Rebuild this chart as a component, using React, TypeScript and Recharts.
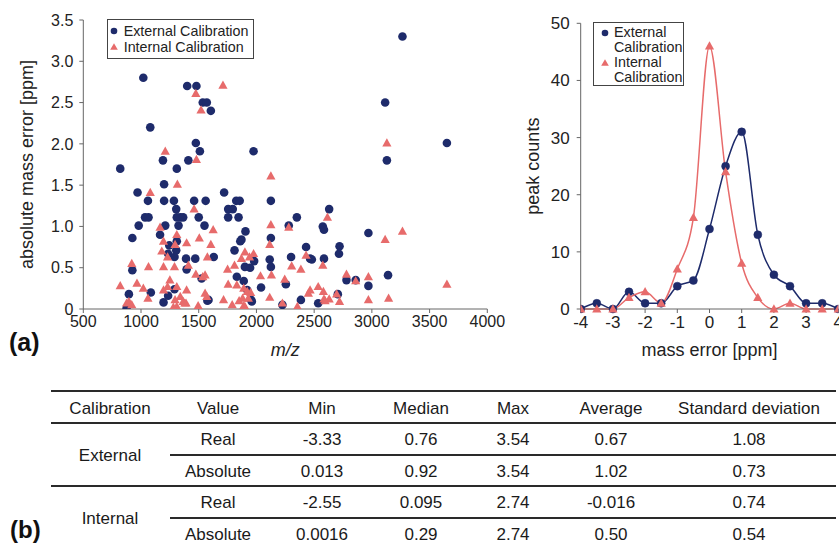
import React from 'react';
import { ScatterChart, Scatter, LineChart, Line, XAxis, YAxis, Legend } from 'recharts';

const NAVY = '#1e2b6b';
const SALMON = '#e76b6b';
const AXIS = '#666';
const FONT = '"Liberation Sans", Arial, sans-serif';

// (a) left: absolute mass error vs m/z
const mzTicks = [500, 1000, 1500, 2000, 2500, 3000, 3500, 4000];
const errTicks = [0, 0.5, 1, 1.5, 2, 2.5, 3, 3.5];

const externalPoints: [number, number][] = [
  [1020, 2.8], [1400, 2.7], [1480, 2.7], [1535, 2.5], [1570, 2.5], [1605, 2.4], [1080, 2.2],
  [1475, 2.01], [1510, 1.91], [1975, 1.91], [1190, 1.8], [1410, 1.8], [820, 1.7], [1310, 1.7],
  [1200, 1.51], [970, 1.41], [1720, 1.41], [1060, 1.31], [1200, 1.31], [1285, 1.31], [1460, 1.31],
  [1560, 1.31], [1825, 1.31], [1855, 1.31], [2125, 1.31], [1305, 1.21], [1755, 1.21], [1795, 1.21],
  [1035, 1.11], [1065, 1.11], [1310, 1.11], [1340, 1.11], [1365, 1.11], [1500, 1.11], [1755, 1.11],
  [1845, 1.11], [2350, 1.11], [980, 1.01], [1210, 1.01], [1325, 1.01], [1550, 1.01], [2280, 1.01],
  [1165, 0.9], [925, 0.86], [1310, 0.82], [1245, 0.77], [1305, 0.71], [1235, 0.67], [1290, 0.63],
  [1390, 0.61], [1470, 0.61], [925, 0.47], [1395, 0.48], [895, 0.18], [1085, 0.2], [1235, 0.16],
  [1195, 0.08], [875, 0.01], [1290, 0.24], [1905, 0.94], [1870, 0.84], [1860, 0.82], [2125, 0.86],
  [1810, 0.71], [1630, 0.63], [1980, 0.58], [2115, 0.6], [2300, 0.63], [1900, 0.51], [1945, 0.5],
  [2125, 0.51], [1525, 0.37], [1830, 0.39], [1890, 0.34], [2040, 0.26], [2255, 0.3], [1920, 0.23],
  [1585, 0.11], [1955, 0.11], [2385, 0.11], [2225, 0.05], [3130, 1.8], [2630, 1.21], [2575, 1.0],
  [2585, 0.96], [2970, 0.92], [2430, 0.75], [2720, 0.76], [2715, 0.67], [2465, 0.61], [2480, 0.6],
  [2585, 0.61], [3140, 0.41], [2780, 0.35], [2860, 0.35], [2970, 0.28], [2705, 0.18], [2535, 0.07],
  [3265, 3.3], [3115, 2.5], [3650, 2.01], [1575, 0.1], [1960, 0.09],
];

const internalPoints: [number, number][] = [
  [1710, 2.71], [1475, 2.61], [1520, 2.41], [1210, 1.91], [1480, 1.81], [1315, 1.51], [1080, 1.41],
  [2125, 1.61], [1460, 1.21], [1165, 0.99], [1310, 0.9], [1195, 0.82], [1295, 0.78], [1395, 0.8],
  [1180, 0.7], [1230, 0.63], [920, 0.55], [1065, 0.51], [1195, 0.51], [1290, 0.51], [1410, 0.53],
  [820, 0.28], [965, 0.31], [1020, 0.25], [1060, 0.13], [1250, 0.35], [1230, 0.27], [1195, 0.23],
  [1310, 0.27], [1395, 0.23], [1340, 0.15], [1365, 0.09], [1390, 0.07], [1295, 0.11], [1310, 0.03],
  [895, 0.09], [875, 0.07], [920, 0.05], [1625, 0.96], [2125, 1.02], [2280, 0.99], [1505, 0.86],
  [1605, 0.78], [2115, 0.78], [1575, 0.63], [1900, 0.69], [1975, 0.67], [1870, 0.61], [1940, 0.63],
  [1810, 0.53], [2305, 0.52], [2385, 0.48], [1750, 0.48], [1475, 0.42], [1555, 0.41], [1535, 0.39],
  [2035, 0.4], [2130, 0.41], [2245, 0.36], [1755, 0.3], [1830, 0.29], [1890, 0.25], [1920, 0.21],
  [1950, 0.2], [1555, 0.19], [1570, 0.15], [1715, 0.11], [1880, 0.13], [1930, 0.13], [2115, 0.14],
  [1495, 0.04], [1790, 0.05], [1890, 0.04], [2225, 0.07], [2355, 0.03], [2615, 1.11], [3265, 0.94],
  [3115, 0.84], [2430, 0.65], [2575, 0.53], [2780, 0.42], [2970, 0.39], [2860, 0.34], [2465, 0.23],
  [2535, 0.27], [2580, 0.21], [2450, 0.19], [2695, 0.18], [2585, 0.12], [2630, 0.12], [2720, 0.09],
  [2970, 0.11], [3145, 0.13], [3130, 2.01], [3650, 0.3], [1280, 0.02], [1380, 0.07], [1850, 0.1],
  [2595, 0.1], [1900, 0.03],
];

// (a) right: mass error histogram
const massErrorBins = [-4, -3.5, -3, -2.5, -2, -1.5, -1, -0.5, 0, 0.5, 1, 1.5, 2, 2.5, 3, 3.5, 4];
const externalCounts = [0, 1, 0, 3, 1, 1, 4, 5, 14, 25, 31, 13, 6, 4, 1, 1, 0];
const internalCounts = [0, 0, 0, 2, 3, 1, 7, 16, 46, 24, 8, 2, 0, 1, 0, 0, 0];
const errorTicks = [-4, -3, -2, -1, 0, 1, 2, 3, 4];
const countTicks = [0, 10, 20, 30, 40, 50];

// (b) table
const tableHeaders = ['Calibration', 'Value', 'Min', 'Median', 'Max', 'Average', 'Standard deviation'];
const calibrationGroups = ['External', 'Internal'];
const valueKinds = ['Real', 'Absolute', 'Real', 'Absolute'];
const minValues = ['-3.33', '0.013', '-2.55', '0.0016'];
const medianValues = ['0.76', '0.92', '0.095', '0.29'];
const maxValues = ['3.54', '3.54', '2.74', '2.74'];
const averageValues = ['0.67', '1.02', '-0.016', '0.50'];
const stdValues = ['1.08', '0.73', '0.74', '0.54'];

const scatterExternal = externalPoints.map(([mz, err]) => ({ mz, err }));
const scatterInternal = internalPoints.map(([mz, err]) => ({ mz, err }));
const histData = massErrorBins.map((x, i) => ({ x, external: externalCounts[i], internal: internalCounts[i] }));

const triPath = (cx: number, cy: number) =>
  `M${cx},${cy - 4.8} L${cx + 4.6},${cy + 3.4} L${cx - 4.6},${cy + 3.4} Z`;

const CircleMark = (p: any) => <circle cx={p.cx} cy={p.cy} r={4.3} fill={NAVY} />;
const TriangleMark = (p: any) => <path d={triPath(p.cx, p.cy)} fill={SALMON} />;

const legendMarker = (kind: 'circle' | 'triangle') => (
  <svg width={10} height={10} style={{ position: 'absolute', left: -5, top: -5 }}>
    {kind === 'circle' ? <circle cx={5} cy={5} r={3.3} fill={NAVY} /> : <path d="M5,1.3 L8.8,7.8 L1.2,7.8 Z" fill={SALMON} />}
  </svg>
);

function ScatterLegend() {
  return (
    <div style={{ position: 'relative', width: 147, height: 40, border: '1px solid #444', boxSizing: 'border-box', background: '#fff', fontSize: 14.3, lineHeight: 1, color: '#222', fontFamily: FONT }}>
      <div style={{ position: 'absolute', left: 6, top: 11 }}>{legendMarker('circle')}</div>
      <div style={{ position: 'absolute', left: 16, top: 4, whiteSpace: 'nowrap' }}>External Calibration</div>
      <div style={{ position: 'absolute', left: 6, top: 27 }}>{legendMarker('triangle')}</div>
      <div style={{ position: 'absolute', left: 16, top: 20, whiteSpace: 'nowrap' }}>Internal Calibration</div>
    </div>
  );
}

function HistLegend() {
  return (
    <div style={{ position: 'relative', width: 91, height: 64, border: '1px solid #444', boxSizing: 'border-box', background: '#fff', fontSize: 14.3, lineHeight: '15px', color: '#222', fontFamily: FONT }}>
      <div style={{ position: 'absolute', left: 11, top: 10 }}>{legendMarker('circle')}</div>
      <div style={{ position: 'absolute', left: 20, top: 2 }}>External<br />Calibration</div>
      <div style={{ position: 'absolute', left: 11, top: 40 }}>{legendMarker('triangle')}</div>
      <div style={{ position: 'absolute', left: 20, top: 32 }}>Internal<br />Calibration</div>
    </div>
  );
}

const colCenters = [110, 218, 322, 421, 513, 611, 749];
const rowCenters = [439, 471, 502, 534];

function Cell({ x, y, text }: { x: number; y: number; text: string }) {
  return (
    <div style={{ position: 'absolute', left: x, top: y, transform: 'translate(-50%, -50%)', whiteSpace: 'nowrap', lineHeight: 1 }}>
      {text}
    </div>
  );
}

function Rule({ x1, x2, y }: { x1: number; x2: number; y: number }) {
  return <div style={{ position: 'absolute', left: x1, top: y - 0.9, width: x2 - x1, height: 1.8, background: '#2a2a2a' }} />;
}

function StatsTable() {
  const columns = [valueKinds, minValues, medianValues, maxValues, averageValues, stdValues];
  return (
    <div style={{ position: 'absolute', left: 0, top: 0, width: 839, height: 544, fontSize: 17, color: '#1a1a1a', fontFamily: FONT }}>
      <Rule x1={51} x2={836} y={391} />
      {tableHeaders.map((h, i) => <Cell key={h} x={colCenters[i]} y={408} text={h} />)}
      <Rule x1={51} x2={836} y={423} />
      <Rule x1={170} x2={836} y={455} />
      <Rule x1={51} x2={836} y={486} />
      <Rule x1={170} x2={836} y={518} />
      {calibrationGroups.map((g, i) => <Cell key={g} x={colCenters[0]} y={i === 0 ? 455 : 518} text={g} />)}
      {columns.map((col, c) =>
        col.map((v, r) => <Cell key={`${c}-${r}`} x={colCenters[c + 1]} y={rowCenters[r]} text={v} />)
      )}
      <div style={{ position: 'absolute', left: 10, top: 530, transform: 'translateY(-50%)', fontSize: 24, fontWeight: 'bold', lineHeight: 1, color: '#111' }}>(b)</div>
    </div>
  );
}

export default function App() {
  return (
    <div style={{ position: 'absolute', left: 0, top: 0, width: 839, height: 544, background: '#fff', overflow: 'hidden', fontFamily: FONT }}>
      <div style={{ position: 'absolute', left: 0, top: 0 }}>
        <ScatterChart width={520} height={365} margin={{ top: 20, right: 32.7, bottom: 0, left: 0 }}>
          <XAxis
            type="number"
            dataKey="mz"
            domain={[500, 4000]}
            ticks={mzTicks}
            interval={0}
            allowDataOverflow
            height={56}
            stroke={AXIS}
            tickSize={4}
            tickMargin={3}
            tick={{ fill: '#222', fontSize: 16 }}
            label={{ value: 'm/z', position: 'insideBottom', offset: 9, style: { fill: '#222', fontSize: 18, fontStyle: 'italic', textAnchor: 'middle' } }}
          />
          <YAxis
            type="number"
            dataKey="err"
            domain={[0, 3.5]}
            ticks={errTicks}
            interval={0}
            allowDataOverflow
            width={83.3}
            stroke={AXIS}
            tickSize={4}
            tickMargin={6}
            tick={{ fill: '#222', fontSize: 16 }}
            tickFormatter={(v: number) => (v === 0 ? '0' : v.toFixed(1))}
            label={{ value: 'absolute mass error [ppm]', angle: -90, position: 'insideLeft', offset: 27, style: { fill: '#222', fontSize: 18, textAnchor: 'middle' } }}
          />
          <Legend layout="vertical" align="center" verticalAlign="middle" wrapperStyle={{ left: 106.7, top: 19.3 }} content={() => <ScatterLegend />} />
          <Scatter name="External Calibration" data={scatterExternal} fill={NAVY} shape={CircleMark} isAnimationActive={false} />
          <Scatter name="Internal Calibration" data={scatterInternal} fill={SALMON} shape={TriangleMark} isAnimationActive={false} />
        </ScatterChart>
      </div>
      <div style={{ position: 'absolute', left: 500, top: 0 }}>
        <LineChart width={339} height={365} data={histData} margin={{ top: 23.3, right: 0.7, bottom: 0, left: 0 }}>
          <XAxis
            type="number"
            dataKey="x"
            domain={[-4, 4]}
            ticks={errorTicks}
            interval={0}
            allowDataOverflow
            height={56}
            stroke={AXIS}
            tickSize={4}
            tickMargin={3}
            tick={{ fill: '#222', fontSize: 17 }}
            label={{ value: 'mass error [ppm]', position: 'insideBottom', offset: 9, style: { fill: '#222', fontSize: 18, textAnchor: 'middle' } }}
          />
          <YAxis
            type="number"
            domain={[0, 50]}
            ticks={countTicks}
            interval={0}
            width={80.7}
            stroke={AXIS}
            tickSize={4}
            tickMargin={7}
            tick={{ fill: '#222', fontSize: 17 }}
            label={{ value: 'peak counts', angle: -90, position: 'insideLeft', offset: 33, style: { fill: '#222', fontSize: 18, textAnchor: 'middle' } }}
          />
          <Legend layout="vertical" align="center" verticalAlign="middle" wrapperStyle={{ left: 93, top: 21.7 }} content={() => <HistLegend />} />
          <Line
            type="monotone"
            dataKey="external"
            name="External Calibration"
            stroke={NAVY}
            strokeWidth={1.5}
            dot={{ r: 4, fill: NAVY, stroke: NAVY, strokeWidth: 0.5 }}
            isAnimationActive={false}
          />
          <Line
            type="monotone"
            dataKey="internal"
            name="Internal Calibration"
            stroke={SALMON}
            strokeWidth={1.5}
            dot={(p: any) => <path key={`tri-${p.index}`} d={triPath(p.cx, p.cy)} fill={SALMON} />}
            isAnimationActive={false}
          />
        </LineChart>
      </div>
      <div style={{ position: 'absolute', left: 9, top: 342, transform: 'translateY(-50%)', fontSize: 25, fontWeight: 'bold', lineHeight: 1, color: '#111' }}>(a)</div>
      <StatsTable />
    </div>
  );
}
